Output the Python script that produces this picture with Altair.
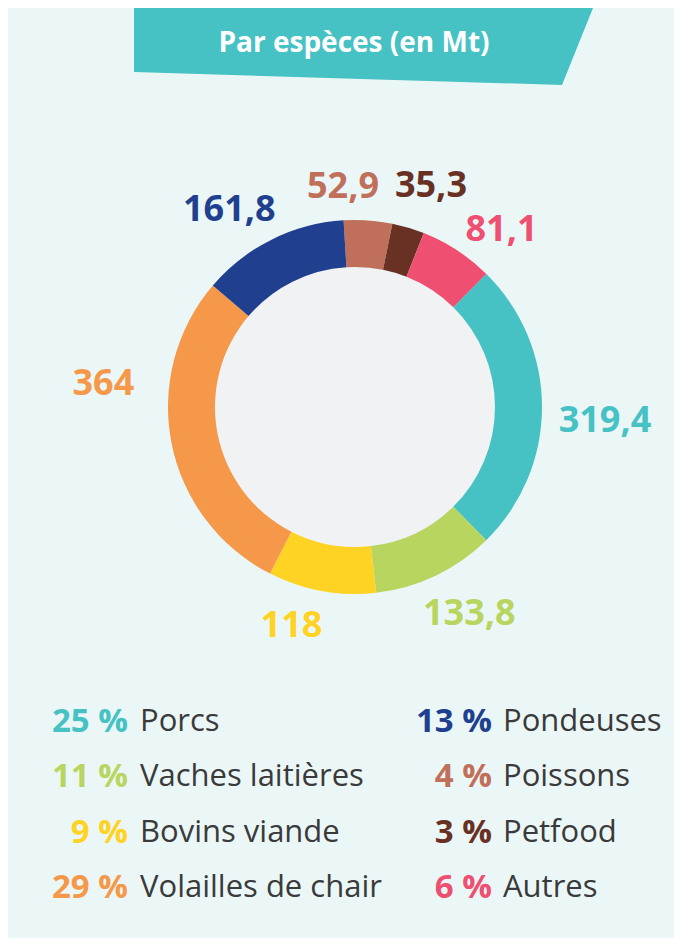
import math
import altair as alt
import pandas as pd

# ---------------- data ----------------
categories = ["Poissons", "Petfood", "Autres", "Porcs", "Vaches laitières",
              "Bovins viande", "Volailles de chair", "Pondeuses"]
values = [52.9, 35.3, 81.1, 319.4, 133.8, 118.0, 364.0, 161.8]
colors = ["#c0705a", "#693124", "#ef4f70", "#46c1c4", "#b8d55f",
          "#fed324", "#f6984a", "#20408f"]
legend_left = ["Porcs", "Vaches laitières", "Bovins viande", "Volailles de chair"]
legend_right = ["Pondeuses", "Poissons", "Petfood", "Autres"]
title_text = "Par espèces (en Mt)"

# ---------------- styling ----------------
BG = "#ebf7f7"
INNER = "#f1f2f4"
BANNER = "#46c1c4"
TEXT = "#3a3a3a"
FONT = "Open Sans"
W, H = 666, 930
CX, CY = 347, 399
R_OUT, R_IN, R_LBL = 187, 140, 228
START = math.radians(-3.5)
total = sum(values)

# label nudges (px) from the mid-angle position
nudges = {
    "Poissons": (-28, 7), "Petfood": (11, -2), "Autres": (22, 14),
    "Porcs": (22, 14), "Vaches laitières": (16, 1), "Bovins viande": (-23, -5),
    "Volailles de chair": (-28, -67), "Pondeuses": (-24, 7),
}

df = pd.DataFrame({"category": categories, "value": values,
                   "order": list(range(len(categories)))})

color_enc = alt.Color("category:N",
                      scale=alt.Scale(domain=categories, range=colors),
                      legend=None)
theta_scale = alt.Scale(domain=[0, total], range=[START, START + 2 * math.pi])

# banner (decorative shape)
banner_df = pd.DataFrame({"bx": [126, 554, 585], "by": [0, 0, 0], "by2": [64, 77, 0]})
banner = alt.Chart(banner_df).mark_area(color=BANNER, opacity=1).encode(
    x=alt.X("bx:Q", scale=None, axis=None),
    y=alt.Y("by:Q", scale=None, axis=None),
    y2="by2:Q",
)
title = alt.Chart(pd.DataFrame({"t": [title_text]})).mark_text(
    font=FONT, fontSize=28, fontWeight="bold", color="white",
    align="center", baseline="middle",
).encode(text="t:N", x=alt.value(346), y=alt.value(36))

inner = alt.Chart(pd.DataFrame({"k": [0]})).mark_arc(
    radius=R_IN, theta=0, theta2=2 * math.pi, color=INNER
).encode(x=alt.value(CX), y=alt.value(CY))

ring = alt.Chart(df).mark_arc(radius=R_OUT, radius2=R_IN).encode(
    theta=alt.Theta("value:Q", stack=True, scale=theta_scale),
    order=alt.Order("order:Q"),
    color=color_enc,
    x=alt.value(CX), y=alt.value(CY),
)

lbl_base = alt.Chart(df).transform_window(
    cum="sum(value)", sort=[alt.SortField("order", order="ascending")],
    frame=[None, 0],
).transform_calculate(
    mid="datum.cum - datum.value / 2",
    label="replace(toString(datum.value), '.', ',')",
)
label_layers = []
for cat in categories:
    dx, dy = nudges[cat]
    label_layers.append(
        lbl_base.transform_filter(alt.datum.category == cat).mark_text(
            radius=R_LBL, dx=dx, dy=dy, font=FONT, fontSize=36,
            fontWeight="bold", align="center", baseline="middle",
        ).encode(
            theta=alt.Theta("mid:Q", scale=theta_scale, stack=None),
            text="label:N", color=color_enc,
            x=alt.value(CX), y=alt.value(CY),
        )
    )

# legend
leg_rows = []
for col, names in enumerate([legend_left, legend_right]):
    for row, n in enumerate(names):
        leg_rows.append({"category": n, "col": col, "row": row})
leg_df = df.merge(pd.DataFrame(leg_rows), on="category")
leg_base = alt.Chart(leg_df).transform_joinaggregate(
    tot="sum(value)"
).transform_calculate(
    pct="round(datum.value / datum.tot * 100) + ' %'",
    ly="714 + datum.row * 55.3",
)
legend_layers = []
for col, (xp, xn) in enumerate([(120, 132), (484, 495)]):
    b = leg_base.transform_filter(alt.datum.col == col)
    legend_layers.append(
        b.mark_text(font=FONT, fontSize=33, fontWeight="bold", align="right",
                    baseline="middle").encode(
            text="pct:N", color=color_enc, x=alt.value(xp),
            y=alt.Y("ly:Q", scale=None, axis=None))
    )
    legend_layers.append(
        b.mark_text(font=FONT, fontSize=31, align="left", baseline="middle",
                    color=TEXT).encode(
            text="category:N", x=alt.value(xn),
            y=alt.Y("ly:Q", scale=None, axis=None))
    )

chart = alt.layer(banner, title, inner, ring, *label_layers, *legend_layers).properties(
    width=W, height=H, background=BG, padding=0,
    autosize=alt.AutoSizeParams(type="none"),
).configure_view(stroke=None)

chart.save("out.html", embed_options={"renderer": "svg", "actions": False})
